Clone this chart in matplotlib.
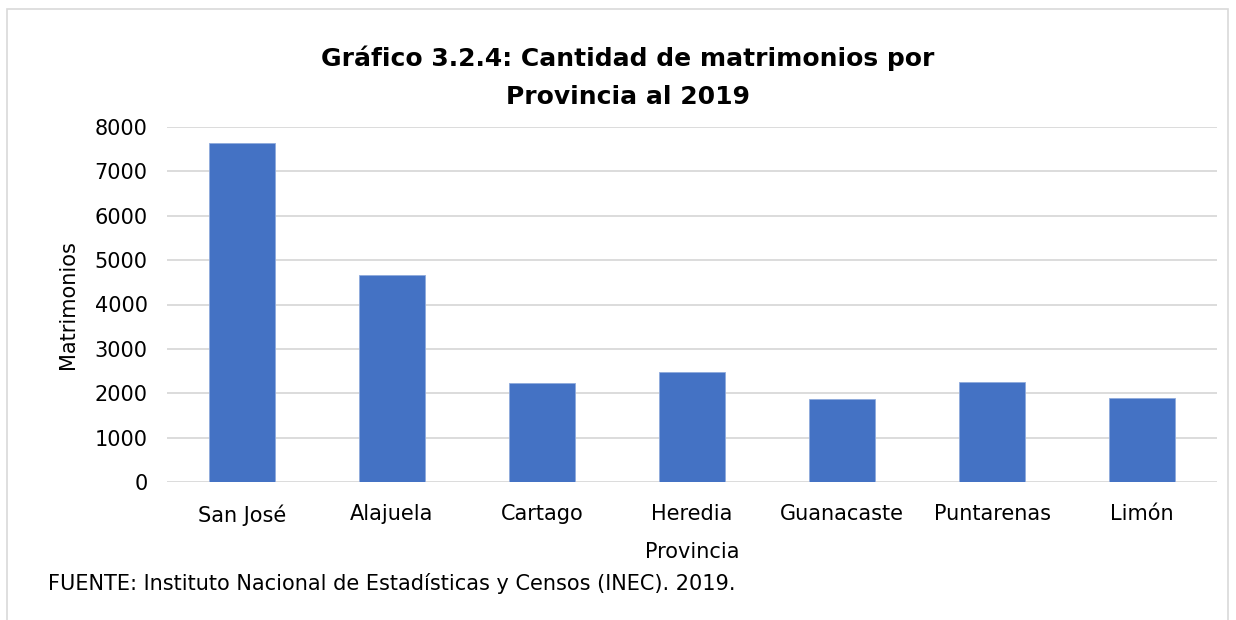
import matplotlib.pyplot as plt
from matplotlib.patches import Rectangle

provincias = ["San José", "Alajuela", "Cartago", "Heredia", "Guanacaste", "Puntarenas", "Limón"]
matrimonios = [7640, 4675, 2235, 2490, 1867, 2258, 1896]
yticks = [0, 1000, 2000, 3000, 4000, 5000, 6000, 7000, 8000]

plt.rcParams['font.family'] = ['DejaVu Sans']

fig = plt.figure(figsize=(12.36, 6.2), dpi=100)
# chart area border
fig.patches.append(Rectangle((7 / 1236, -0.01), 1221 / 1236, 1 - 9 / 620 + 0.01,
                             transform=fig.transFigure, fill=False,
                             edgecolor="#D9D9D9", linewidth=1.2))

ax = fig.add_axes([167 / 1236, 1 - 482 / 620, 1050 / 1236, 355 / 620])
x = range(len(provincias))
ax.bar(x, matrimonios, width=0.44, color="#4472C4", edgecolor="#8FAADC",
       linewidth=0.6, zorder=3)

ax.set_xlim(-0.5, len(provincias) - 0.5)
ax.set_ylim(0, 8000)
ax.set_yticks(yticks)
ax.set_xticks(list(x))
ax.set_xticklabels(provincias)
ax.tick_params(axis="both", length=0, labelsize=15, colors="black")
ax.tick_params(axis="x", pad=16)
ax.tick_params(axis="y", pad=14)
ax.grid(axis="y", color="#D9D9D9", linewidth=1.3, zorder=0)
for s in ax.spines.values():
    s.set_visible(False)

ax.set_xlabel("Provincia", fontsize=15, labelpad=12)
ax.set_ylabel("Matrimonios", fontsize=15, labelpad=12)

fig.text(628 / 1236, 1 - 77 / 620, "Gráfico 3.2.4: Cantidad de matrimonios por\nProvincia al 2019",
         ha="center", va="center", fontsize=18, fontweight="bold", linespacing=1.75)
fig.text(48 / 1236, 1 - 584 / 620, "FUENTE: Instituto Nacional de Estadísticas y Censos (INEC). 2019.",
         ha="left", va="center", fontsize=15)

fig.savefig("out.png", dpi=100)
